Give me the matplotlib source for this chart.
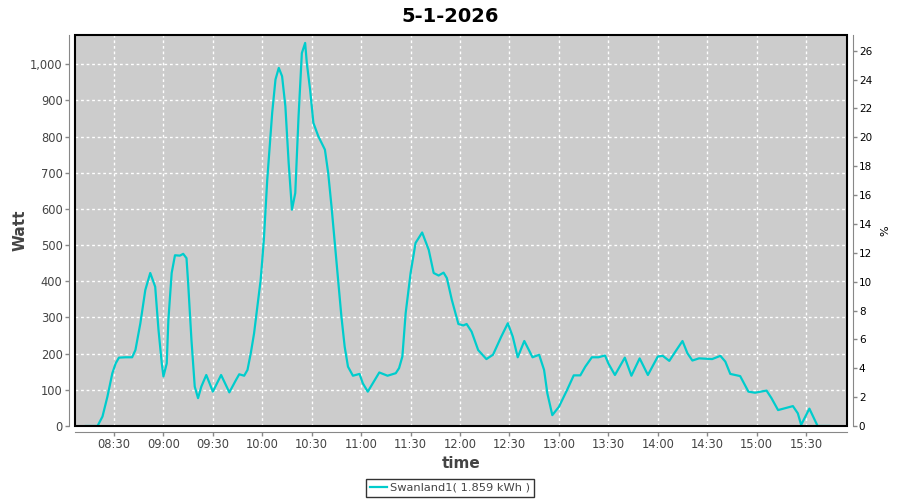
import datetime as dt
import matplotlib
matplotlib.use("Agg")
import matplotlib.pyplot as plt
import matplotlib.dates as mdates
from matplotlib.patches import Rectangle
from matplotlib.ticker import FuncFormatter, MultipleLocator

day = "2026-01-05"
times = [
    "08:13", "08:17", "08:20", "08:23", "08:26", "08:29", "08:31", "08:33", "08:37", "08:41",
    "08:43", "08:46", "08:49", "08:52", "08:55", "08:57", "08:59", "09:00", "09:02", "09:03",
    "09:05", "09:07", "09:10", "09:12", "09:14", "09:15", "09:17", "09:19", "09:21", "09:23",
    "09:26", "09:30", "09:35", "09:40", "09:44", "09:46", "09:49", "09:51", "09:53", "09:55",
    "09:57", "09:59", "10:00", "10:01", "10:03", "10:06", "10:08", "10:10", "10:12", "10:14",
    "10:16", "10:18", "10:20", "10:22", "10:24", "10:26", "10:27", "10:29", "10:31", "10:34",
    "10:38", "10:40", "10:42", "10:44", "10:46", "10:48", "10:50", "10:52", "10:55", "10:59",
    "11:01", "11:04", "11:11", "11:16", "11:21", "11:23", "11:25", "11:27", "11:30", "11:33",
    "11:37", "11:41", "11:44", "11:47", "11:50", "11:52", "11:55", "11:59", "12:02", "12:04",
    "12:07", "12:11", "12:16", "12:20", "12:25", "12:29", "12:32", "12:35", "12:39", "12:44",
    "12:48", "12:51", "12:53", "12:56", "13:00", "13:05", "13:09", "13:13", "13:16", "13:20",
    "13:24", "13:28", "13:30", "13:34", "13:40", "13:44", "13:49", "13:54", "14:00", "14:03",
    "14:07", "14:10", "14:15", "14:18", "14:21", "14:25", "14:33", "14:38", "14:41", "14:44",
    "14:50", "14:55", "14:59", "15:06", "15:09", "15:13", "15:17", "15:22", "15:25", "15:27",
    "15:32", "15:37", "15:44",
]
watt = [
    0, 0, 0, 26, 81, 146, 173, 189, 190, 190,
    210, 284, 376, 423, 385, 266, 173, 137, 173, 293,
    423, 472, 471, 476, 464, 395, 238, 109, 77, 109,
    141, 95, 141, 93, 127, 143, 139, 155, 201, 256,
    330, 404, 460, 520, 681, 866, 958, 990, 967, 884,
    727, 598, 644, 856, 1031, 1059, 1004, 930, 838, 801,
    764, 699, 607, 506, 404, 303, 219, 164, 139, 144,
    118, 95, 148, 139, 146, 160, 192, 312, 423, 506,
    535, 487, 423, 416, 424, 409, 349, 282, 278, 282,
    261, 210, 185, 197, 247, 284, 247, 190, 235, 190,
    197, 155, 90, 30, 53, 100, 140, 140, 164, 190,
    190, 195, 173, 141, 189, 139, 187, 141, 192, 194,
    180, 201, 235, 201, 181, 187, 185, 194, 178, 144,
    138, 95, 92, 98, 77, 44, 49, 55, 35, 3,
    48, 0, 0,
]
x_ticks = ["08:30", "09:00", "09:30", "10:00", "10:30", "11:00", "11:30", "12:00",
           "12:30", "13:00", "13:30", "14:00", "14:30", "15:00", "15:30"]
series_label = "Swanland1( 1.859 kWh )"


def to_dt(s):
    return dt.datetime.strptime(day + " " + s, "%Y-%m-%d %H:%M")


x = [to_dt(t) for t in times]

plt.rcParams["font.family"] = ["DejaVu Sans"]
grey = "#444444"
axis_grey = "#888888"

fig = plt.figure(figsize=(9, 5), dpi=100)
ax = fig.add_axes([75 / 900, 1 - 426 / 500, 772 / 900, 391 / 500])
ax.set_facecolor("#cccccc")

ax.plot(x, watt, color="#00cccc", lw=1.6, zorder=3, label=series_label)

ax.set_xlim(to_dt("08:06") + dt.timedelta(seconds=20), to_dt("15:54") + dt.timedelta(seconds=50))
ax.set_ylim(0, 1081)
ax.set_xticks([to_dt(t) for t in x_ticks])
ax.xaxis.set_major_formatter(mdates.DateFormatter("%H:%M"))
ax.yaxis.set_major_locator(MultipleLocator(100))
ax.yaxis.set_major_formatter(FuncFormatter(lambda v, p: f"{int(v):,}"))

ax.grid(True, color="white", linestyle=(0, (2, 2)), lw=1, zorder=1)
ax.set_axisbelow(True)

for side in ["top", "right"]:
    ax.spines[side].set_visible(False)
for side in ["left", "bottom"]:
    ax.spines[side].set_position(("outward", 4))
    ax.spines[side].set_color(axis_grey)
ax.tick_params(colors=axis_grey, labelcolor=grey, labelsize=8.3, length=3, width=1, pad=2)

ax.add_patch(Rectangle((0, 0), 1, 1, transform=ax.transAxes, fill=False,
                       edgecolor="black", lw=1.5, zorder=5, clip_on=False))

ax.set_xlabel("time", fontsize=11, fontweight="bold", color=grey, labelpad=3)
ax.set_ylabel("Watt", fontsize=11, fontweight="bold", color=grey)
ax.yaxis.set_label_coords(-0.061, 0.5)

ax2 = ax.twinx()
ax2.set_ylim(0, 27.09)
ax2.yaxis.set_major_locator(MultipleLocator(2))
for side in ["top", "left", "bottom"]:
    ax2.spines[side].set_visible(False)
ax2.spines["right"].set_position(("outward", 4))
ax2.spines["right"].set_color(axis_grey)
ax2.tick_params(colors=axis_grey, labelcolor="black", labelsize=7.5, length=3, width=1, pad=1.5)
ax2.set_ylabel("%", fontsize=8, color="black", labelpad=6)

fig.suptitle("5-1-2026", fontsize=14, fontweight="bold", y=0.985)

leg = fig.legend(loc="center", bbox_to_anchor=(0.5, 0.024), frameon=True, fancybox=False,
                 fontsize=8.2, handlelength=1.45, handletextpad=0.3, borderpad=0.35,
                 labelcolor=grey)
leg.get_frame().set_edgecolor("black")
leg.get_frame().set_linewidth(1)

plt.savefig("out.png", dpi=100)
